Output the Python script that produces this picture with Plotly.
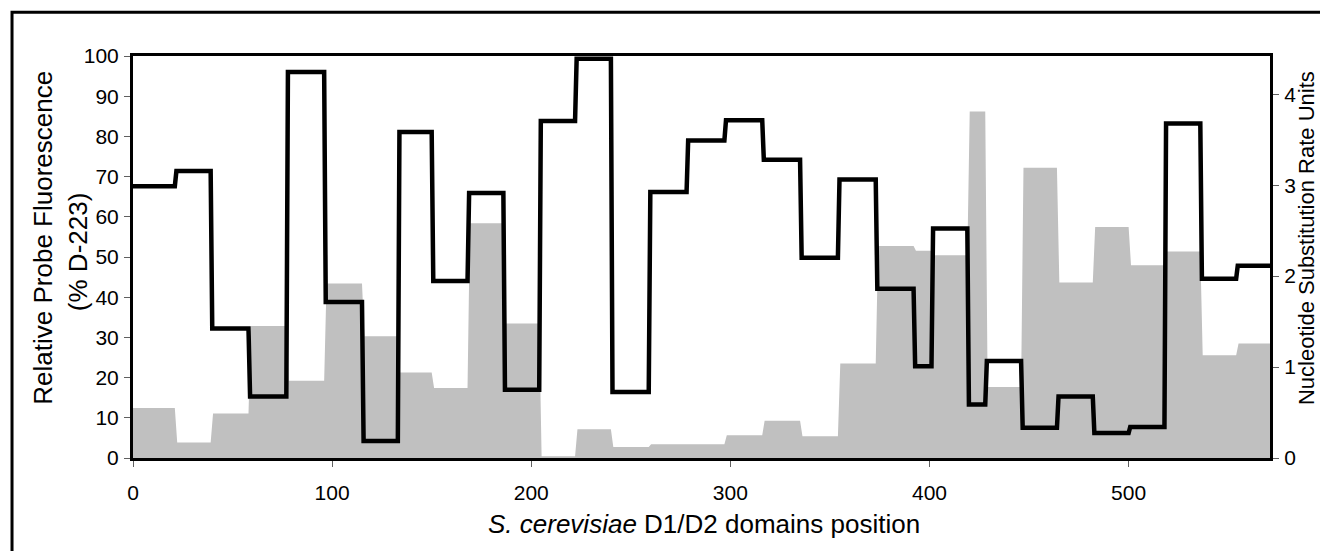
import plotly.graph_objects as go

# Probe segment boundaries along the D1/D2 domains (positions)
boundaries = [0, 21, 39, 58, 77, 96, 115, 133, 150, 168, 186, 204, 222, 240, 259,
              278, 297, 316, 335, 354, 373, 392, 401, 419, 428, 446, 464, 482, 500,
              518, 536, 554, 571]

# Relative probe fluorescence (% D-223), one value per segment
fluorescence = [67.6, 71.4, 32.2, 15.3, 96.0, 38.8, 4.2, 81.1, 44.0, 65.9, 17.0,
                83.8, 99.3, 16.4, 66.2, 79.0, 84.0, 74.2, 49.8, 69.3, 42.1, 22.8,
                57.1, 13.3, 24.1, 7.5, 15.3, 6.2, 7.7, 83.2, 44.6, 47.8]

# Nucleotide substitution rate units, one value per segment
substitution = [0.55, 0.17, 0.49, 1.45, 0.85, 1.92, 1.34, 0.94, 0.77, 2.58, 1.48,
                0.02, 0.315, 0.12, 0.15, 0.15, 0.25, 0.41, 0.24, 1.04, 2.33, 2.28,
                2.23, 3.81, 0.78, 3.19, 1.93, 2.54, 2.12, 2.27, 1.13, 1.26]

x_ticks = [0, 100, 200, 300, 400, 500]
left_ticks = [0, 10, 20, 30, 40, 50, 60, 70, 80, 90, 100]
right_ticks = [0, 1, 2, 3, 4]


def step_points(bounds, vals, lag):
    xs, ys = [], []
    for i, v in enumerate(vals):
        start = bounds[i] + (lag if i > 0 else 0)
        xs += [start, bounds[i + 1]]
        ys += [v, v]
    return xs, ys


gx, gy = step_points(boundaries, substitution, 1.2)
lx, ly = step_points(boundaries, fluorescence, 0.8)

FONT = "Liberation Sans, Arial, sans-serif"

fig = go.Figure()
fig.add_trace(go.Scatter(x=gx, y=gy, mode="lines", fill="tozeroy",
                         fillcolor="#C0C0C0", line=dict(width=0, color="#C0C0C0"),
                         yaxis="y", showlegend=False, hoverinfo="skip"))
fig.add_trace(go.Scatter(x=lx, y=ly, mode="lines",
                         line=dict(width=4.5, color="black"),
                         yaxis="y2", showlegend=False))

axis_common = dict(showgrid=False, zeroline=False, ticks="outside", ticklen=6,
                   tickwidth=1, tickcolor="#606060",
                   tickfont=dict(family=FONT, size=21, color="black"))

fig.update_layout(
    width=1312, height=543,
    margin=dict(l=125, r=50, t=48, b=93),
    paper_bgcolor="white", plot_bgcolor="white",
    showlegend=False,
    xaxis=dict(range=[0, 571], tickvals=x_ticks, showline=True, mirror=True,
               linecolor="black", linewidth=3, ticklabelstandoff=8, **axis_common),
    yaxis=dict(range=[0, 4.42], tickvals=right_ticks, side="right",
               showline=True, linecolor="black", linewidth=3,
               ticklabelstandoff=1, **axis_common),
    yaxis2=dict(range=[0, 100], tickvals=left_ticks, side="left", overlaying="y",
                anchor="x", showline=True, linecolor="black", linewidth=3,
                ticklabelstandoff=1, **axis_common),
    shapes=[dict(type="rect", xref="paper", yref="paper",
                 x0=-0.1064, x1=1.08, y0=-0.3, y1=1.109,
                 line=dict(color="black", width=3), fillcolor="rgba(0,0,0,0)",
                 layer="above")],
    annotations=[
        dict(text="Relative Probe Fluorescence", xref="paper", yref="paper",
             x=-0.0792, y=0.548, textangle=-90, showarrow=False,
             xanchor="center", yanchor="middle",
             font=dict(family=FONT, size=26, color="black")),
        dict(text="(% D-223)", xref="paper", yref="paper",
             x=-0.0484, y=0.512, textangle=-90, showarrow=False,
             xanchor="center", yanchor="middle",
             font=dict(family=FONT, size=26, color="black")),
        dict(text="Nucleotide Substitution Rate Units", xref="paper", yref="paper",
             x=1.032, y=0.548, textangle=-90, showarrow=False,
             xanchor="center", yanchor="middle",
             font=dict(family=FONT, size=22, color="black")),
        dict(text="<i>S. cerevisiae</i> D1/D2 domains position", xref="paper",
             yref="paper", x=0.502, y=-0.164, showarrow=False,
             xanchor="center", yanchor="middle",
             font=dict(family=FONT, size=26, color="black")),
    ],
)

fig.write_html("out.html")
